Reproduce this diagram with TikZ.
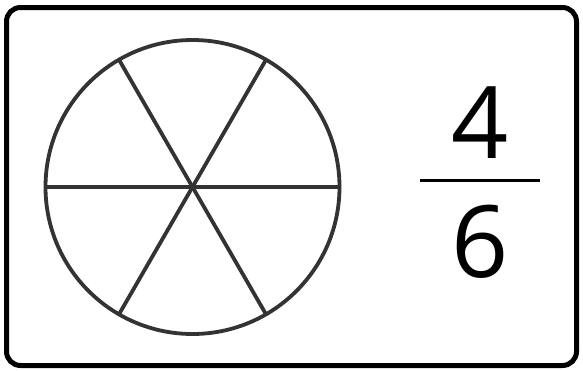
\documentclass[tikz,border=0pt]{standalone}
\usepackage{fontspec}
\setmainfont{Open Sans}
\begin{document}
\begin{tikzpicture}[x=1pt,y=-1pt,
  pie/.style={draw=black!80,line width=3.8pt},
  digit/.style={font=\fontsize{100}{100}\selectfont,inner sep=0pt,text=black}]
\useasboundingbox (0,0) rectangle (583,370);
\draw[line width=5pt,rounded corners=14pt] (6.5,7.5) rectangle (576.5,365.5);
\coordinate (c) at (192.5,187);
\draw[pie] (c) circle[radius=147];
\draw[pie] (c) ++(0:147) coordinate (e0) -- (c) -- ++(180:147);
\draw[pie] (c) ++(60:147) -- (c) -- ++(240:147);
\draw[pie] (c) ++(120:147) -- (c) -- ++(300:147);
\node[digit,anchor=base] (n) at (480,158) {4};
\node[digit,anchor=base] (d) at (480,277) {6};
\coordinate (l1) at (420,180.5);
\coordinate (l2) at (540,180.5);
\draw[line width=3pt,black] (l1) -- (l2);
\end{tikzpicture}
\end{document}
